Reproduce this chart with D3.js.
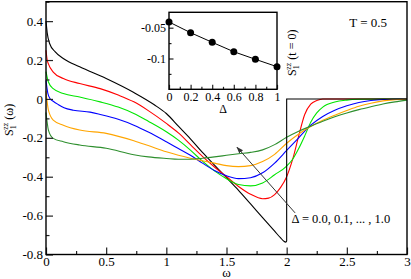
<!DOCTYPE html>
<html lang="en">
<head>
<meta charset="UTF-8">
<title>S1zz(omega)</title>
<script src="https://cdn.jsdelivr.net/npm/d3@7"></script>
<style>
  body { margin: 0; background: #fff; }
  svg { display: block; }
  svg text { font-family: "Liberation Serif", "Times New Roman", serif; }
</style>
</head>
<body>
<main></main>
<script>
    // curves for Delta = 0.0, 0.2, ..., 1.0 : [omega, S]
    var curveD00 = [[0, 0.40], [0.01, 0.34], [0.03, 0.285], [0.075, 0.243], [0.15, 0.205], [0.28, 0.165],
        [0.5, 0.105], [0.73, 0.033], [0.9, -0.03], [1.0, -0.075], [1.1, -0.14], [1.2, -0.205], [1.3, -0.275],
        [1.4, -0.34], [1.5, -0.405], [1.6, -0.47], [1.7, -0.54], [1.8, -0.61], [1.9, -0.68], [1.95, -0.715],
        [1.98, -0.733], [1.995, -0.737]];
    // black jumps back to zero at omega = 2
    var curveD00Jump = [[1.995, -0.737], [2.0, -0.73], [2.0, 0], [3.0, 0]];
    var curveD02 = [[0, 0.25], [0.01, 0.2], [0.02, 0.18], [0.06, 0.138], [0.144, 0.105], [0.28, 0.079],
        [0.45, 0.053], [0.6, 0.02], [0.73, -0.015], [0.85, -0.06], [1.0, -0.126], [1.1, -0.175], [1.2, -0.235],
        [1.3, -0.295], [1.4, -0.35], [1.5, -0.4], [1.6, -0.45], [1.7, -0.49], [1.8, -0.513], [1.85, -0.51],
        [1.9, -0.492], [1.95, -0.455], [2.0, -0.4], [2.05, -0.31], [2.1, -0.19], [2.15, -0.08], [2.2, -0.027],
        [2.25, -0.008], [2.3, 0], [3.0, 0]];
    var curveD04 = [[0, 0.14], [0.02, 0.087], [0.06, 0.053], [0.144, 0.028], [0.28, 0.01], [0.45, -0.015],
        [0.6, -0.042], [0.73, -0.075], [0.85, -0.115], [1.0, -0.169], [1.1, -0.212], [1.2, -0.263], [1.3, -0.32],
        [1.4, -0.37], [1.5, -0.41], [1.6, -0.44], [1.7, -0.447], [1.8, -0.432], [1.9, -0.39], [2.0, -0.345],
        [2.05, -0.31], [2.1, -0.255], [2.15, -0.19], [2.2, -0.12], [2.25, -0.072], [2.3, -0.042], [2.4, -0.016],
        [2.5, -0.006], [2.6, -0.002], [2.8, 0], [3.0, 0]];
    var curveD06 = [[0, 0.095], [0.015, 0.03], [0.035, 0.0], [0.06, -0.012], [0.1, -0.028], [0.15, -0.045],
        [0.227, -0.058], [0.366, -0.068], [0.45, -0.08], [0.6, -0.105], [0.73, -0.135], [0.85, -0.17],
        [1.0, -0.22], [1.1, -0.255], [1.2, -0.29], [1.3, -0.33], [1.4, -0.368], [1.5, -0.395], [1.6, -0.41],
        [1.7, -0.405], [1.8, -0.38], [1.9, -0.33], [2.0, -0.265], [2.1, -0.2], [2.2, -0.135], [2.3, -0.09],
        [2.4, -0.058], [2.5, -0.035], [2.6, -0.018], [2.7, -0.008], [2.8, -0.003], [3.0, 0]];
    var curveD08 = [[0, 0.04], [0.02, -0.058], [0.06, -0.109], [0.144, -0.135], [0.28, -0.16], [0.5, -0.177],
        [0.73, -0.215], [0.85, -0.24], [1.0, -0.272], [1.1, -0.29], [1.2, -0.305], [1.3, -0.318], [1.4, -0.33],
        [1.5, -0.343], [1.6, -0.348], [1.7, -0.343], [1.8, -0.322], [1.9, -0.285], [2.0, -0.228], [2.1, -0.18],
        [2.2, -0.142], [2.3, -0.11], [2.4, -0.084], [2.5, -0.06], [2.6, -0.038], [2.7, -0.022], [2.8, -0.01],
        [2.9, -0.004], [3.0, 0]];
    var curveD10 = [[0, -0.07], [0.02, -0.16], [0.06, -0.203], [0.144, -0.22], [0.28, -0.237], [0.5, -0.254],
        [0.73, -0.287], [0.85, -0.298], [1.0, -0.306], [1.1, -0.31], [1.2, -0.31], [1.3, -0.305], [1.4, -0.298],
        [1.5, -0.29], [1.6, -0.282], [1.7, -0.275], [1.8, -0.262], [1.9, -0.235], [2.0, -0.197], [2.1, -0.166],
        [2.2, -0.14], [2.3, -0.115], [2.4, -0.092], [2.5, -0.072], [2.6, -0.055], [2.7, -0.04], [2.8, -0.026],
        [2.9, -0.015], [3.0, -0.006]];

    var curves = [curveD00, curveD02, curveD04, curveD06, curveD08, curveD10];
    var curveColors = ['#000000', '#ff0000', '#00e600', '#0000ff', '#ffa500', '#2e8f2e'];

    // inset: S1zz(t=0) vs Delta
    var insetDelta = [0, 0.2, 0.4, 0.6, 0.8, 1.0];
    var insetValue = [-0.0407, -0.0581, -0.0737, -0.089, -0.1013, -0.1133];

    var xTicks = [0, 0.5, 1, 1.5, 2, 2.5, 3];
    var yTicks = [0.4, 0.2, 0, -0.2, -0.4, -0.6, -0.8];
    var insetXTicks = [0, 0.2, 0.4, 0.6, 0.8, 1];
    var insetYTicks = [-0.05, -0.1];

    var serif = '"Liberation Serif", "Times New Roman", serif';

    var svg = d3.select('main')
        .append('svg')
        .attr('width', 411)
        .attr('height', 279)
        .attr('font-family', serif);

    var x = d3.scaleLinear().domain([0, 3]).range([46, 407]);
    var y = d3.scaleLinear().domain([-0.8, 0.5]).range([254.5, 1.7]);

    var line = d3.line()
        .x(d => x(d[0]))
        .y(d => y(d[1]))
        .curve(d3.curveMonotoneX);

    svg.append('g')
        .selectAll('path')
        .data(curves)
        .enter()
        .append('path')
        .attr('d', d => line(d))
        .attr('fill', 'none')
        .attr('stroke', (d, i) => curveColors[i])
        .attr('stroke-width', 1.1);

    svg.append('path')
        .attr('d', d3.line().x(d => x(d[0])).y(d => y(d[1]))(curveD00Jump))
        .attr('fill', 'none')
        .attr('stroke', curveColors[0])
        .attr('stroke-width', 1.1);

    // main axes
    function styleAxis(g) {
        g.attr('font-family', serif).attr('font-size', null);
        g.select('.domain').remove();
        g.selectAll('line').attr('stroke', '#222').attr('stroke-width', 1.2);
        g.selectAll('text').attr('fill', '#000').attr('font-family', serif);
    }

    svg.append('g')
        .attr('transform', 'translate(0,254.5)')
        .call(d3.axisBottom(x).tickValues(d3.range(0.25, 3, 0.5)).tickSize(-3.5).tickFormat(''))
        .call(styleAxis);
    svg.append('g')
        .attr('transform', 'translate(0,254.5)')
        .call(d3.axisBottom(x).tickValues(xTicks).tickSize(-7).tickPadding(2.5).tickFormat(d => d.toString()))
        .call(styleAxis)
        .selectAll('text').style('font-size', '13px');

    svg.append('g')
        .attr('transform', 'translate(46,0)')
        .call(d3.axisLeft(y).tickValues([0.5, 0.3, 0.1, -0.1, -0.3, -0.5, -0.7]).tickSize(-3.5).tickFormat(''))
        .call(styleAxis);
    svg.append('g')
        .attr('transform', 'translate(46,0)')
        .call(d3.axisLeft(y).tickValues(yTicks).tickSize(-7).tickPadding(3).tickFormat(d => d.toString()))
        .call(styleAxis)
        .selectAll('text').style('font-size', '13px');

    svg.append('rect')
        .attr('x', x(0)).attr('y', y(0.5))
        .attr('width', x(3) - x(0)).attr('height', y(-0.8) - y(0.5))
        .attr('fill', 'none').attr('stroke', '#000').attr('stroke-width', 1.4);

    // axis titles
    svg.append('text')
        .attr('x', x(1.5)).attr('y', 276.5)
        .attr('text-anchor', 'middle')
        .style('font-size', '13px')
        .text('ω');

    var ylab = svg.append('text')
        .attr('transform', 'translate(13,136) rotate(-90)')
        .style('font-size', '12px');
    ylab.append('tspan').text('S');
    ylab.append('tspan').attr('dy', 2.5).style('font-size', '8px').text('1');
    ylab.append('tspan').attr('dx', -4.5).attr('dy', -7.5).style('font-size', '8px').text('zz');
    ylab.append('tspan').attr('dy', 5).text(' (ω)');

    svg.append('text')
        .attr('x', x(2.52)).attr('y', y(0.368))
        .style('font-size', '13px')
        .text('T = 0.5');

    // arrow + Delta annotation
    svg.append('defs').append('marker')
        .attr('id', 'head')
        .attr('viewBox', '0 0 10 10')
        .attr('refX', 9).attr('refY', 5)
        .attr('markerWidth', 7).attr('markerHeight', 7)
        .attr('orient', 'auto')
        .append('path')
        .attr('d', 'M0,1.5 L10,5 L0,8.5 Z')
        .attr('fill', '#333');

    svg.append('line')
        .attr('x1', x(2.07)).attr('y1', y(-0.586))
        .attr('x2', x(1.587)).attr('y2', y(-0.248))
        .attr('stroke', '#333').attr('stroke-width', 1)
        .attr('marker-end', 'url(#head)');

    svg.append('text')
        .attr('x', x(2.04)).attr('y', y(-0.637))
        .style('font-size', '12.5px')
        .text('Δ = 0.0, 0.1, ... , 1.0');

    // inset
    var ix = d3.scaleLinear().domain([0, 1]).range([169, 277]);
    var iy = d3.scaleLinear().domain([-0.15, -0.025]).range([89.3, 12.3]);

    svg.append('rect')
        .attr('x', ix(0)).attr('y', iy(-0.025))
        .attr('width', ix(1) - ix(0)).attr('height', iy(-0.15) - iy(-0.025))
        .attr('fill', '#fff');

    svg.append('g')
        .attr('transform', 'translate(0,89.3)')
        .call(d3.axisBottom(ix).tickValues([0.1, 0.3, 0.5, 0.7, 0.9]).tickSize(-2.5).tickFormat(''))
        .call(styleAxis);
    svg.append('g')
        .attr('transform', 'translate(0,89.3)')
        .call(d3.axisBottom(ix).tickValues(insetXTicks).tickSize(-4.5).tickPadding(3).tickFormat(d => d.toString()))
        .call(styleAxis)
        .selectAll('text').style('font-size', '12px');

    svg.append('g')
        .attr('transform', 'translate(169,0)')
        .call(d3.axisLeft(iy).tickValues([-0.075, -0.125]).tickSize(-2.5).tickFormat(''))
        .call(styleAxis);
    svg.append('g')
        .attr('transform', 'translate(169,0)')
        .call(d3.axisLeft(iy).tickValues(insetYTicks).tickSize(-4.5).tickPadding(3).tickFormat(d => d.toString()))
        .call(styleAxis)
        .selectAll('text').style('font-size', '12px');

    var insetPoints = insetDelta.map((d, i) => [d, insetValue[i]]);

    svg.append('path')
        .attr('d', d3.line().x(d => ix(d[0])).y(d => iy(d[1]))(insetPoints))
        .attr('fill', 'none')
        .attr('stroke', '#000')
        .attr('stroke-width', 1);

    svg.append('rect')
        .attr('x', ix(0)).attr('y', iy(-0.025))
        .attr('width', ix(1) - ix(0)).attr('height', iy(-0.15) - iy(-0.025))
        .attr('fill', 'none').attr('stroke', '#000').attr('stroke-width', 1.4);

    svg.append('g')
        .selectAll('circle')
        .data(insetPoints)
        .enter()
        .append('circle')
        .attr('cx', d => ix(d[0]))
        .attr('cy', d => iy(d[1]))
        .attr('r', 3.5)
        .attr('fill', '#000');

    svg.append('text')
        .attr('x', ix(0.5)).attr('y', 113)
        .attr('text-anchor', 'middle')
        .style('font-size', '12px')
        .text('Δ');

    var ilab = svg.append('text')
        .attr('transform', 'translate(296,76) rotate(-90)')
        .style('font-size', '12px');
    ilab.append('tspan').text('S');
    ilab.append('tspan').attr('dy', 2.5).style('font-size', '8px').text('1');
    ilab.append('tspan').attr('dx', -4.5).attr('dy', -7.5).style('font-size', '8px').text('zz');
    ilab.append('tspan').attr('dy', 5).text(' (t = 0)');
</script>
</body>
</html>
